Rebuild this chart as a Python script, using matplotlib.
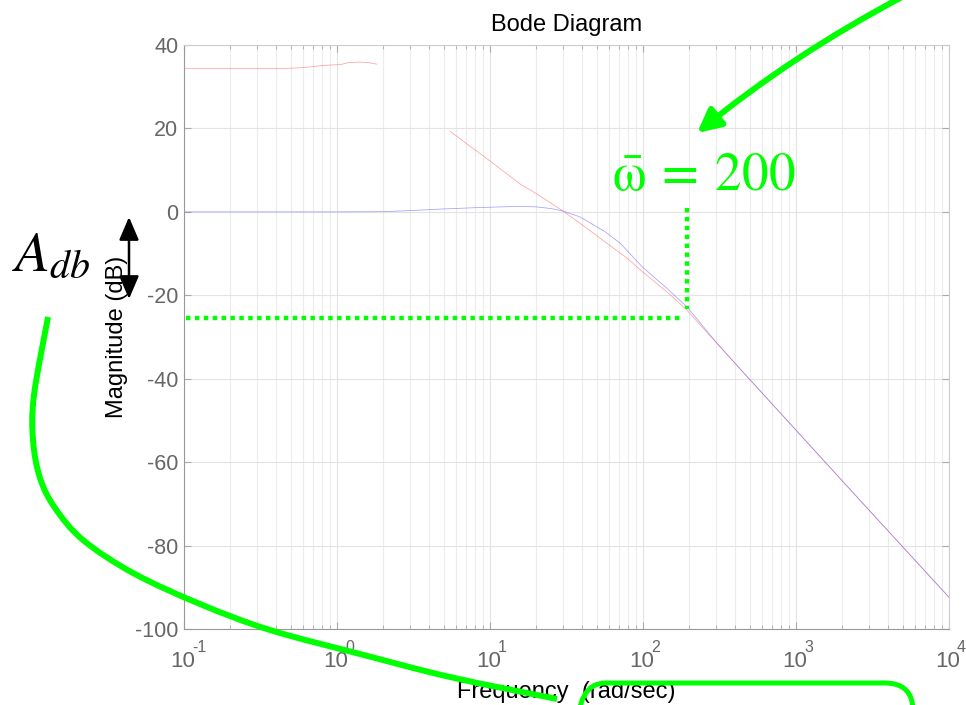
import numpy as np
import matplotlib
matplotlib.use("Agg")
import matplotlib.pyplot as plt
from matplotlib import transforms
from matplotlib.path import Path
from matplotlib.patches import PathPatch, FancyArrowPatch, FancyBboxPatch, ArrowStyle
from matplotlib.ticker import NullFormatter, LogLocator

# ---------------- data ----------------
red1_freq = [0.1, 0.2, 0.3, 0.45, 0.55, 0.65, 0.77, 0.9, 1.05, 1.2, 1.4, 1.6, 1.82]
red1_db = [34.4, 34.4, 34.4, 34.4, 34.5, 34.7, 35.0, 35.2, 35.3, 35.8, 35.9, 35.8, 35.4]

red2_freq = [5.5, 7, 10, 15.7, 20, 30, 40, 58, 80, 98, 150, 194, 300, 430, 970, 2150, 10000]
red2_db = [19.3, 16.4, 12.2, 6.7, 4.4, 0.2, -3.1, -7.5, -11.3, -14.2, -19.8, -23.6, -31.3, -37.6, -51.8, -65.7, -92.4]

blue_freq = [0.1, 1, 2, 3, 5, 8, 12, 16, 20, 25, 30, 38.7, 50, 56.5, 70.8, 98.4, 140, 194, 300, 430, 970, 2150, 10000]
blue_db = [0, 0, 0.05, 0.3, 0.7, 1.0, 1.2, 1.3, 1.2, 0.8, 0.2, -1.2, -3.6, -4.75, -7.5, -13.1, -18.0, -22.8, -31.2, -37.6, -51.8, -65.7, -92.4]

xtick_vals = [0.1, 1, 10, 100, 1000, 10000]
xtick_exps = ['-1', '0', '1', '2', '3', '4']
ytick_vals = [40, 20, 0, -20, -40, -60, -80, -100]

omega_bar = 195
level_db = -25.4

W, H = 966, 705
plt.rcParams['font.family'] = ['Liberation Sans', 'DejaVu Sans']
plt.rcParams['mathtext.fontset'] = 'stix'
plt.rcParams['axes.unicode_minus'] = False

fig = plt.figure(figsize=(W / 100, H / 100), dpi=100)
ax = fig.add_axes([184 / W, 1 - 629 / H, (949 - 184) / W, (629 - 45) / H])

ax.plot(red1_freq, red1_db, color='#ff7070', lw=0.55, alpha=0.65)
ax.plot(red2_freq, red2_db, color='#ff7070', lw=0.55, alpha=0.65)
ax.plot(blue_freq, blue_db, color='#7070ff', lw=0.55, alpha=0.65)

ax.set_xscale('log')
ax.set_xlim(0.1, 10000)
ax.set_ylim(-100, 40)
ax.set_yticks(ytick_vals)
ax.set_xticks(xtick_vals)
ax.xaxis.set_minor_locator(LogLocator(base=10, subs=np.arange(2, 10)))
ax.xaxis.set_minor_formatter(NullFormatter())
ax.set_xticklabels([])
ax.grid(True, which='major', color='#e3e3e3', lw=0.8)
ax.grid(True, which='minor', axis='x', color='#ececec', lw=0.8)
ax.set_axisbelow(True)
ax.tick_params(axis='both', which='both', direction='in', color='#aaaaaa',
               top=True, right=True)
ax.tick_params(axis='both', which='major', length=5)
ax.tick_params(axis='both', which='minor', length=3)
ax.tick_params(axis='y', labelsize=15.5, labelcolor='#666666', pad=4)
for s in ['left', 'bottom']:
    ax.spines[s].set_color('#999999')
for s in ['top', 'right']:
    ax.spines[s].set_color('#cccccc')

# x tick labels (MATLAB style 10 with superscript)
base = ax.get_xaxis_transform()
t10 = transforms.offset_copy(base, fig=fig, x=-1.5, y=-38, units='dots')
tsup = transforms.offset_copy(base, fig=fig, x=8, y=-23, units='dots')
for v, e in zip(xtick_vals, xtick_exps):
    ax.text(v, 0, '10', transform=t10, ha='center', va='baseline',
            fontsize=16, color='#666666', clip_on=False)
    ax.text(v, 0, e, transform=tsup, ha='left', va='baseline',
            fontsize=11.5, color='#666666', clip_on=False)

ax.set_title('Bode Diagram', fontsize=17, pad=10)
ax.text(0.5, 0, 'Frequency  (rad/sec)', fontsize=17, ha='center', va='baseline',
        transform=transforms.offset_copy(ax.transAxes, fig=fig, y=-69, units='dots'))
ax.text(0, 0.5, 'Magnitude (dB)', fontsize=17, ha='center', va='center', rotation=90,
        transform=transforms.offset_copy(ax.transAxes, fig=fig, x=-67, units='dots'))

green = '#00ff00'
# dotted guide lines
ax.plot([omega_bar, omega_bar], [0.9, -23.3], color=green, lw=3.2,
        linestyle=(0, (1, 1)), dash_capstyle='butt', clip_on=False, zorder=5)
ax.plot([0.103, 175], [level_db, level_db], color=green, lw=3.2,
        linestyle=(0, (1, 1)), dash_capstyle='butt', clip_on=False, zorder=5)

# pixel transform (top-left origin)
pix = transforms.Affine2D().scale(1, -1).translate(0, H).scale(1 / W, 1 / H) + fig.transFigure

# omega bar text
fig.text(612 / W, 1 - 190 / H, r'$\bar{\mathrm{\omega}}\:=\:200$', fontsize=38.5, color=green,
         ha='left', va='baseline')

# A_db text
fig.text(12 / W, 1 - 270 / H, r'$A_{db}$', fontsize=41, color='black',
         ha='left', va='baseline')

# green arrow at top
arr = FancyArrowPatch((902, -3), (697, 133), transform=pix,
                      connectionstyle='arc3,rad=0.05',
                      arrowstyle=ArrowStyle('-|>', head_length=14, head_width=7),
                      mutation_scale=1, lw=4.3, color=green, shrinkA=0, shrinkB=0)
fig.add_artist(arr)

# double black arrow
darr = FancyArrowPatch((129, 217), (129, 299), transform=pix,
                       arrowstyle=ArrowStyle('<|-|>', head_length=14, head_width=6),
                       mutation_scale=1, lw=1.8, color='black', shrinkA=0, shrinkB=0)
fig.add_artist(darr)

# big green curve (Catmull-Rom -> Bezier)
pts = np.array([(48, 317), (34, 395), (33, 440), (40, 478), (55, 508), (83, 540),
                (133, 573), (200, 604), (270, 630), (360, 654), (450, 677), (557, 699)], float)
verts = [tuple(pts[0])]
codes = [Path.MOVETO]
for i in range(len(pts) - 1):
    p0 = pts[i - 1] if i > 0 else pts[i]
    p1 = pts[i]
    p2 = pts[i + 1]
    p3 = pts[i + 2] if i + 2 < len(pts) else pts[i + 1]
    c1 = p1 + (p2 - p0) / 6
    c2 = p2 - (p3 - p1) / 6
    verts += [tuple(c1), tuple(c2), tuple(p2)]
    codes += [Path.CURVE4] * 3
curve = PathPatch(Path(verts, codes), transform=pix, fill=False, ec=green, lw=4.3,
                  capstyle='butt')
fig.add_artist(curve)

# rounded rectangle at bottom
box = FancyBboxPatch((577, 683), 336, 80, boxstyle='round,pad=0,rounding_size=28',
                     transform=pix, fill=False, ec=green, lw=3.6)
fig.add_artist(box)

fig.savefig('out.png', dpi=100)
